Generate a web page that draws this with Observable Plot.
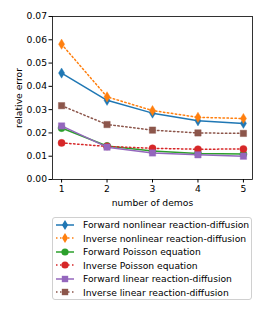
<!DOCTYPE html>
<html><head><meta charset="utf-8">
<script src="https://cdn.jsdelivr.net/npm/d3@7"></script>
<script src="https://cdn.jsdelivr.net/npm/@observablehq/plot@0.6"></script>
<style>
body{margin:0;background:#fff;font-family:"DejaVu Sans",sans-serif;}
#wrap{position:relative;width:266px;height:332px;}
#legend{position:absolute;left:52px;top:217px;width:200px;height:83px;border:1px solid #d0d0d0;border-radius:3px;box-sizing:border-box;padding-top:0px;}
.row{display:flex;align-items:center;height:13.5px;font-size:9.2px;color:#000;white-space:nowrap;}
.row svg{margin-left:2px;margin-right:8px;}
</style>
</head><body><div id="wrap"><div id="chart"></div><div id="legend"></div></div>
<script>
const demos = [1, 2, 3, 4, 5];
const seriesNames = [
  "Forward nonlinear reaction-diffusion",
  "Inverse nonlinear reaction-diffusion",
  "Forward Poisson equation",
  "Inverse Poisson equation",
  "Forward linear reaction-diffusion",
  "Inverse linear reaction-diffusion"
];
const fwdNonlinear = [0.0457, 0.0340, 0.0285, 0.0252, 0.0241];
const invNonlinear = [0.0581, 0.0355, 0.0296, 0.0267, 0.0262];
const fwdPoisson   = [0.0221, 0.0144, 0.0122, 0.0112, 0.0109];
const invPoisson   = [0.0157, 0.0142, 0.0134, 0.0130, 0.0131];
const fwdLinear    = [0.0230, 0.0139, 0.0114, 0.0106, 0.0100];
const invLinear    = [0.0317, 0.0236, 0.0212, 0.0200, 0.0198];
const yTicks = [0, 0.01, 0.02, 0.03, 0.04, 0.05, 0.06, 0.07];

const allValues = [fwdNonlinear, invNonlinear, fwdPoisson, invPoisson, fwdLinear, invLinear];
const colors = ["#1f77b4", "#ff7f0e", "#2ca02c", "#d62728", "#9467bd", "#8c564b"];
const dashed = [false, true, false, true, false, true];

const thinDiamond = {
  draw(ctx, size) {
    const h = Math.sqrt(size) * 0.8, w = h * 0.6;
    ctx.moveTo(0, -h); ctx.lineTo(w, 0); ctx.lineTo(0, h); ctx.lineTo(-w, 0); ctx.closePath();
  }
};
const symbols = [thinDiamond, thinDiamond, d3.symbolCircle, d3.symbolCircle, d3.symbolSquare, d3.symbolSquare];

const data = [];
seriesNames.forEach((s, i) => demos.forEach((d, j) => data.push({series: s, demos: d, err: allValues[i][j]})));

const marks = [];
seriesNames.forEach((s, i) => {
  const sub = data.filter(d => d.series === s);
  marks.push(Plot.line(sub, {x: "demos", y: "err", stroke: "series", strokeWidth: 1.5,
    strokeDasharray: dashed[i] ? "1.5,2.5" : null}));
  marks.push(Plot.dot(sub, {x: "demos", y: "err", fill: "series", stroke: "series", strokeOpacity: 0.4, strokeWidth: 1,
    symbol: "series", r: 3.6}));
});
marks.push(Plot.frame({stroke: "#000", strokeWidth: 0.8}));

const chart = Plot.plot({
  width: 266, height: 212,
  marginLeft: 52, marginRight: 14, marginTop: 16, marginBottom: 33,
  style: {fontFamily: "DejaVu Sans", fontSize: "9.2px", color: "#000", background: "#fff"},
  x: {domain: [0.8, 5.2], ticks: demos, tickFormat: d3.format("d"), label: "number of demos", labelAnchor: "center", labelArrow: "none", labelOffset: 26, tickSize: 3.5, tickPadding: 2},
  y: {domain: [0, 0.07], ticks: yTicks, tickFormat: d3.format(".2f"), label: "relative error", labelAnchor: "center", labelArrow: "none", labelOffset: 37, tickSize: 3.5, tickPadding: 2},
  color: {domain: seriesNames, range: colors},
  symbol: {domain: seriesNames, range: symbols},
  marks
});
document.getElementById("chart").appendChild(chart);

const legend = document.getElementById("legend");
seriesNames.forEach((s, i) => {
  const row = document.createElement("div");
  row.className = "row";
  const ns = "http://www.w3.org/2000/svg";
  const svg = document.createElementNS(ns, "svg");
  svg.setAttribute("width", 20); svg.setAttribute("height", 12);
  const line = document.createElementNS(ns, "line");
  line.setAttribute("x1", 1); line.setAttribute("x2", 19); line.setAttribute("y1", 6); line.setAttribute("y2", 6);
  line.setAttribute("stroke", colors[i]); line.setAttribute("stroke-width", 1.5);
  if (dashed[i]) line.setAttribute("stroke-dasharray", "1.5,2.5");
  svg.appendChild(line);
  const p = document.createElementNS(ns, "path");
  p.setAttribute("d", d3.symbol(symbols[i], 3.6 * 3.6 * Math.PI)());
  p.setAttribute("transform", "translate(10,6)");
  p.setAttribute("fill", colors[i]);
  svg.appendChild(p);
  row.appendChild(svg);
  const t = document.createElement("span");
  t.textContent = s;
  row.appendChild(t);
  legend.appendChild(row);
});
</script>
</body></html>
